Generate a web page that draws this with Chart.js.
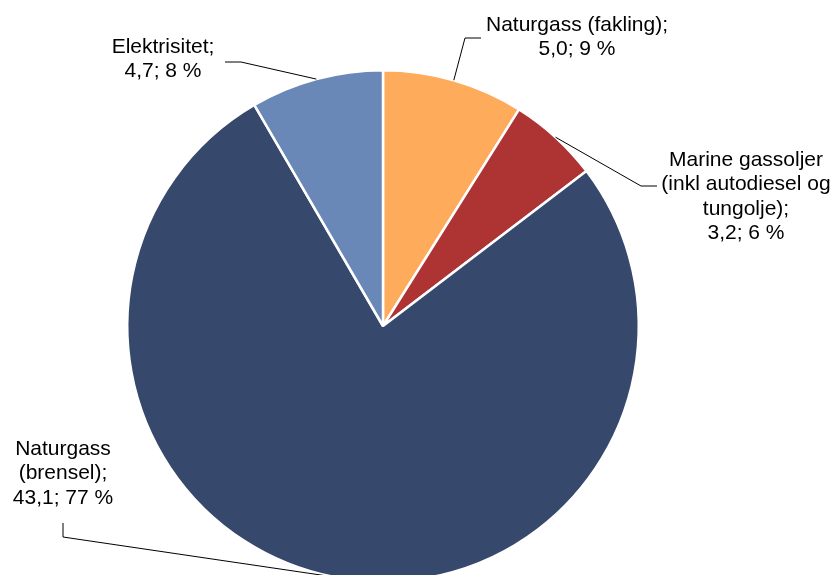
<!DOCTYPE html>
<html lang="no">
<head>
<meta charset="UTF-8">
<title>Utslipp fordelt på kilde</title>
<script src="https://cdn.jsdelivr.net/npm/chart.js"></script>
<style>
    html, body { margin: 0; padding: 0; background: #fff; overflow: hidden; }
    .wrap { width: 835px; height: 600px; position: relative; }
</style>
</head>
<body>
<div class="wrap"><canvas id="pie" width="835" height="600"></canvas></div>
<script>
    // data
    const categories = ['Naturgass (fakling)', 'Marine gassoljer (inkl autodiesel og tungolje)', 'Naturgass (brensel)', 'Elektrisitet'];
    const values = [5.0, 3.2, 43.1, 4.7];
    const labelLines = [
        ['Naturgass (fakling);', '5,0; 9 %'],
        ['Marine gassoljer', '(inkl autodiesel og', 'tungolje);', '3,2; 6 %'],
        ['Naturgass', '(brensel);', '43,1; 77 %'],
        ['Elektrisitet;', '4,7; 8 %']
    ];
    const colors = ['#FFAB5C', '#AE3333', '#36486B', '#6A88B7'];

    // label placement: text centre x, first line y, elbow point, end of leader
    const labelPos = [
        { x: 577, y: 25, elbow: [465, 38], end: [481, 38] },
        { x: 746, y: 160, elbow: [641, 186], end: [657, 186] },
        { x: 63, y: 449, elbow: [63, 537], end: [63, 523] },
        { x: 163, y: 47, elbow: [241, 62], end: [225, 62] }
    ];

    const calloutPlugin = {
        id: 'callouts',
        afterDatasetsDraw(chart) {
            const ctx = chart.ctx;
            const arcs = chart.getDatasetMeta(0).data;
            ctx.save();
            arcs.forEach((arc, i) => {
                const p = arc.getProps(['x', 'y', 'startAngle', 'endAngle', 'outerRadius'], true);
                const mid = (p.startAngle + p.endAngle) / 2;
                const ax = p.x + Math.cos(mid) * p.outerRadius;
                const ay = p.y + Math.sin(mid) * p.outerRadius;
                const lp = labelPos[i];
                ctx.beginPath();
                ctx.moveTo(ax, ay);
                ctx.lineTo(lp.elbow[0], lp.elbow[1]);
                ctx.lineTo(lp.end[0], lp.end[1]);
                ctx.strokeStyle = '#000';
                ctx.lineWidth = 1;
                ctx.stroke();

                ctx.fillStyle = '#000';
                ctx.font = '21px "Liberation Sans", Arial, sans-serif';
                ctx.textAlign = 'center';
                ctx.textBaseline = 'middle';
                labelLines[i].forEach((t, k) => {
                    ctx.fillText(t, lp.x, lp.y + k * 24.5);
                });
            });
            ctx.restore();
        }
    };

    new Chart(document.getElementById('pie'), {
        type: 'pie',
        data: {
            labels: categories,
            datasets: [{
                data: values,
                backgroundColor: colors,
                borderColor: '#fff',
                borderWidth: 2.5
            }]
        },
        options: {
            responsive: false,
            animation: false,
            layout: { padding: { left: 126, right: 195, top: 69, bottom: 17 } },
            plugins: {
                legend: { display: false },
                tooltip: { enabled: false }
            }
        },
        plugins: [calloutPlugin]
    });
</script>
</body>
</html>
